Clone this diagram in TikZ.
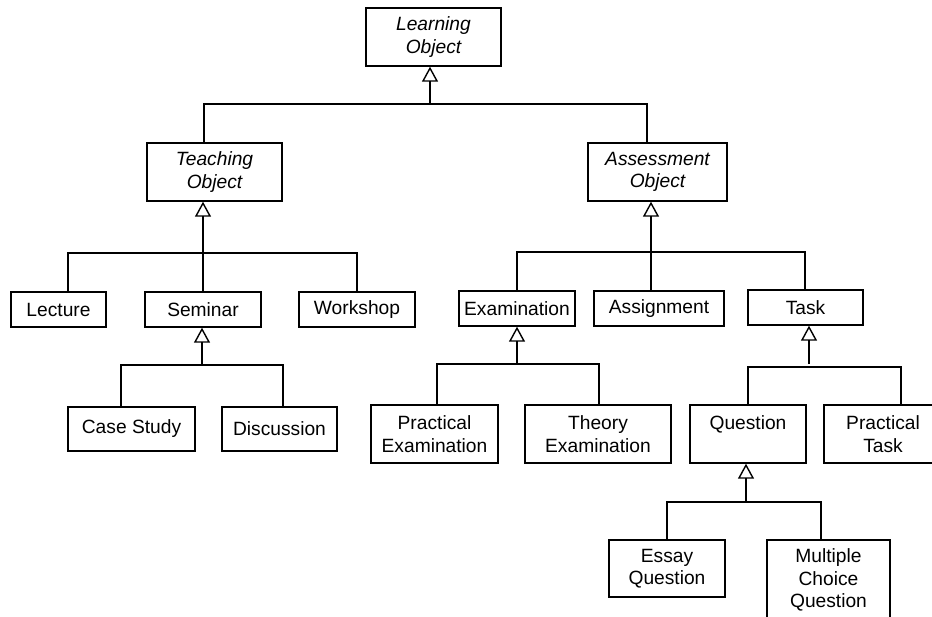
\documentclass[tikz,border=0pt]{standalone}
\usepackage{fontspec}
\setmainfont{Liberation Sans}
\usetikzlibrary{arrows.meta}

\tikzset{
  box/.style={draw=black, line width=1.4pt, fill=white, inner sep=0pt, align=center,
    font=\fontsize{19.2}{22.5}\selectfont},
  abstract/.style={box, font=\fontsize{19.2}{22.5}\selectfont\itshape},
  conn/.style={draw=black, line width=1.4pt},
  gen/.style={conn, -{Triangle[open, length=15pt, width=16pt, line width=1.4pt]}},
}

\begin{document}
\begin{tikzpicture}[x=1pt, y=-1pt]
  \useasboundingbox (0,0) rectangle (932,616);
  \clip (0,0) rectangle (932,616);

  % class boxes
  \node[abstract, minimum width=135pt, minimum height=58pt] (learning)   at (433.5,37)  {Learning\\Object};
  \node[abstract, minimum width=135pt, minimum height=58pt] (teaching)   at (214.5,172) {Teaching\\Object};
  \node[abstract, minimum width=139pt, minimum height=58pt] (assessment) at (657.5,172) {Assessment\\Object};

  \node[box, minimum width=95pt,  minimum height=35pt] (lecture)  at (58.5,309.5) {Lecture};
  \node[box, minimum width=116pt, minimum height=35pt] (seminar)  at (203,309.5)  {Seminar};
  \node[box, minimum width=116pt, minimum height=35pt] (workshop) at (357,309.5)  {Workshop};

  \node[box, minimum width=127pt, minimum height=44pt] (casestudy)  at (131.5,429) {Case Study};
  \node[box, minimum width=115pt, minimum height=44pt] (discussion) at (279.5,429) {Discussion};

  \node[box, minimum width=116pt, minimum height=35pt] (examination) at (517,308.5)   {Examination};
  \node[box, minimum width=130pt, minimum height=35pt] (assignment)  at (659,308.5)   {Assignment};
  \node[box, minimum width=115pt, minimum height=35pt] (task)        at (805.5,307.5) {Task};

  \node[box, minimum width=127pt, minimum height=58pt] (practexam)   at (434.5,434) {Practical\\Examination};
  \node[box, minimum width=146pt, minimum height=58pt] (theoryexam)  at (598,434)   {Theory\\Examination};
  \node[box, minimum width=116pt, minimum height=58pt] (question)    at (748,434)   {Question\\\mbox{}};
  \node[box, minimum width=118pt, minimum height=58pt] (practtask)   at (883,434)   {Practical\\Task};

  \node[box, minimum width=116pt, minimum height=57pt] (essay) at (667,568.5) {Essay\\Question};
  \node[box, minimum width=123pt, minimum height=80pt] (mcq)   at (828.5,580) {Multiple\\Choice\\Question};

  % Learning Object <- Teaching / Assessment
  \coordinate (jLO) at (430,104);
  \coordinate (bTO) at (204,104);
  \coordinate (bAO) at (647,104);
  \draw[conn] (bTO |- teaching.north) -- (bTO) -- (bAO) -- (bAO |- assessment.north);
  \draw[gen] (jLO) -- (jLO |- learning.south);

  % Teaching Object <- Lecture / Seminar / Workshop
  \coordinate (jTO) at (203,253);
  \coordinate (bLe) at (68,253);
  \coordinate (bWo) at (357,253);
  \draw[conn] (bLe |- lecture.north) -- (bLe) -- (bWo) -- (bWo |- workshop.north);
  \draw[conn] (jTO) -- (jTO |- seminar.north);
  \draw[gen] (jTO) -- (jTO |- teaching.south);

  % Seminar <- Case Study / Discussion
  \coordinate (jSe) at (202,365);
  \coordinate (bCS) at (121,365);
  \coordinate (bDi) at (283,365);
  \draw[conn] (bCS |- casestudy.north) -- (bCS) -- (bDi) -- (bDi |- discussion.north);
  \draw[gen] (jSe) -- (jSe |- seminar.south);

  % Assessment Object <- Examination / Assignment / Task
  \coordinate (jAO) at (651,252);
  \coordinate (bEx) at (517,252);
  \coordinate (bTa) at (805,252);
  \draw[conn] (bEx |- examination.north) -- (bEx) -- (bTa) -- (bTa |- task.north);
  \draw[conn] (jAO) -- (jAO |- assignment.north);
  \draw[gen] (jAO) -- (jAO |- assessment.south);

  % Examination <- Practical / Theory Examination
  \coordinate (jEx) at (517,364);
  \coordinate (bPE) at (437,364);
  \coordinate (bTE) at (599,364);
  \draw[conn] (bPE |- practexam.north) -- (bPE) -- (bTE) -- (bTE |- theoryexam.north);
  \draw[gen] (jEx) -- (jEx |- examination.south);

  % Task <- Question / Practical Task
  \coordinate (jTa) at (809,364);
  \coordinate (bQu) at (748,367);
  \coordinate (bPT) at (901,367);
  \draw[conn] (bQu |- question.north) -- (bQu) -- (bPT) -- (bPT |- practtask.north);
  \draw[gen] (jTa) -- (jTa |- task.south);

  % Question <- Essay / Multiple Choice Question
  \coordinate (jQu) at (746,502);
  \coordinate (bEQ) at (667,502);
  \coordinate (bMC) at (821,502);
  \draw[conn] (bEQ |- essay.north) -- (bEQ) -- (bMC) -- (bMC |- mcq.north);
  \draw[gen] (jQu) -- (jQu |- question.south);
\end{tikzpicture}
\end{document}
